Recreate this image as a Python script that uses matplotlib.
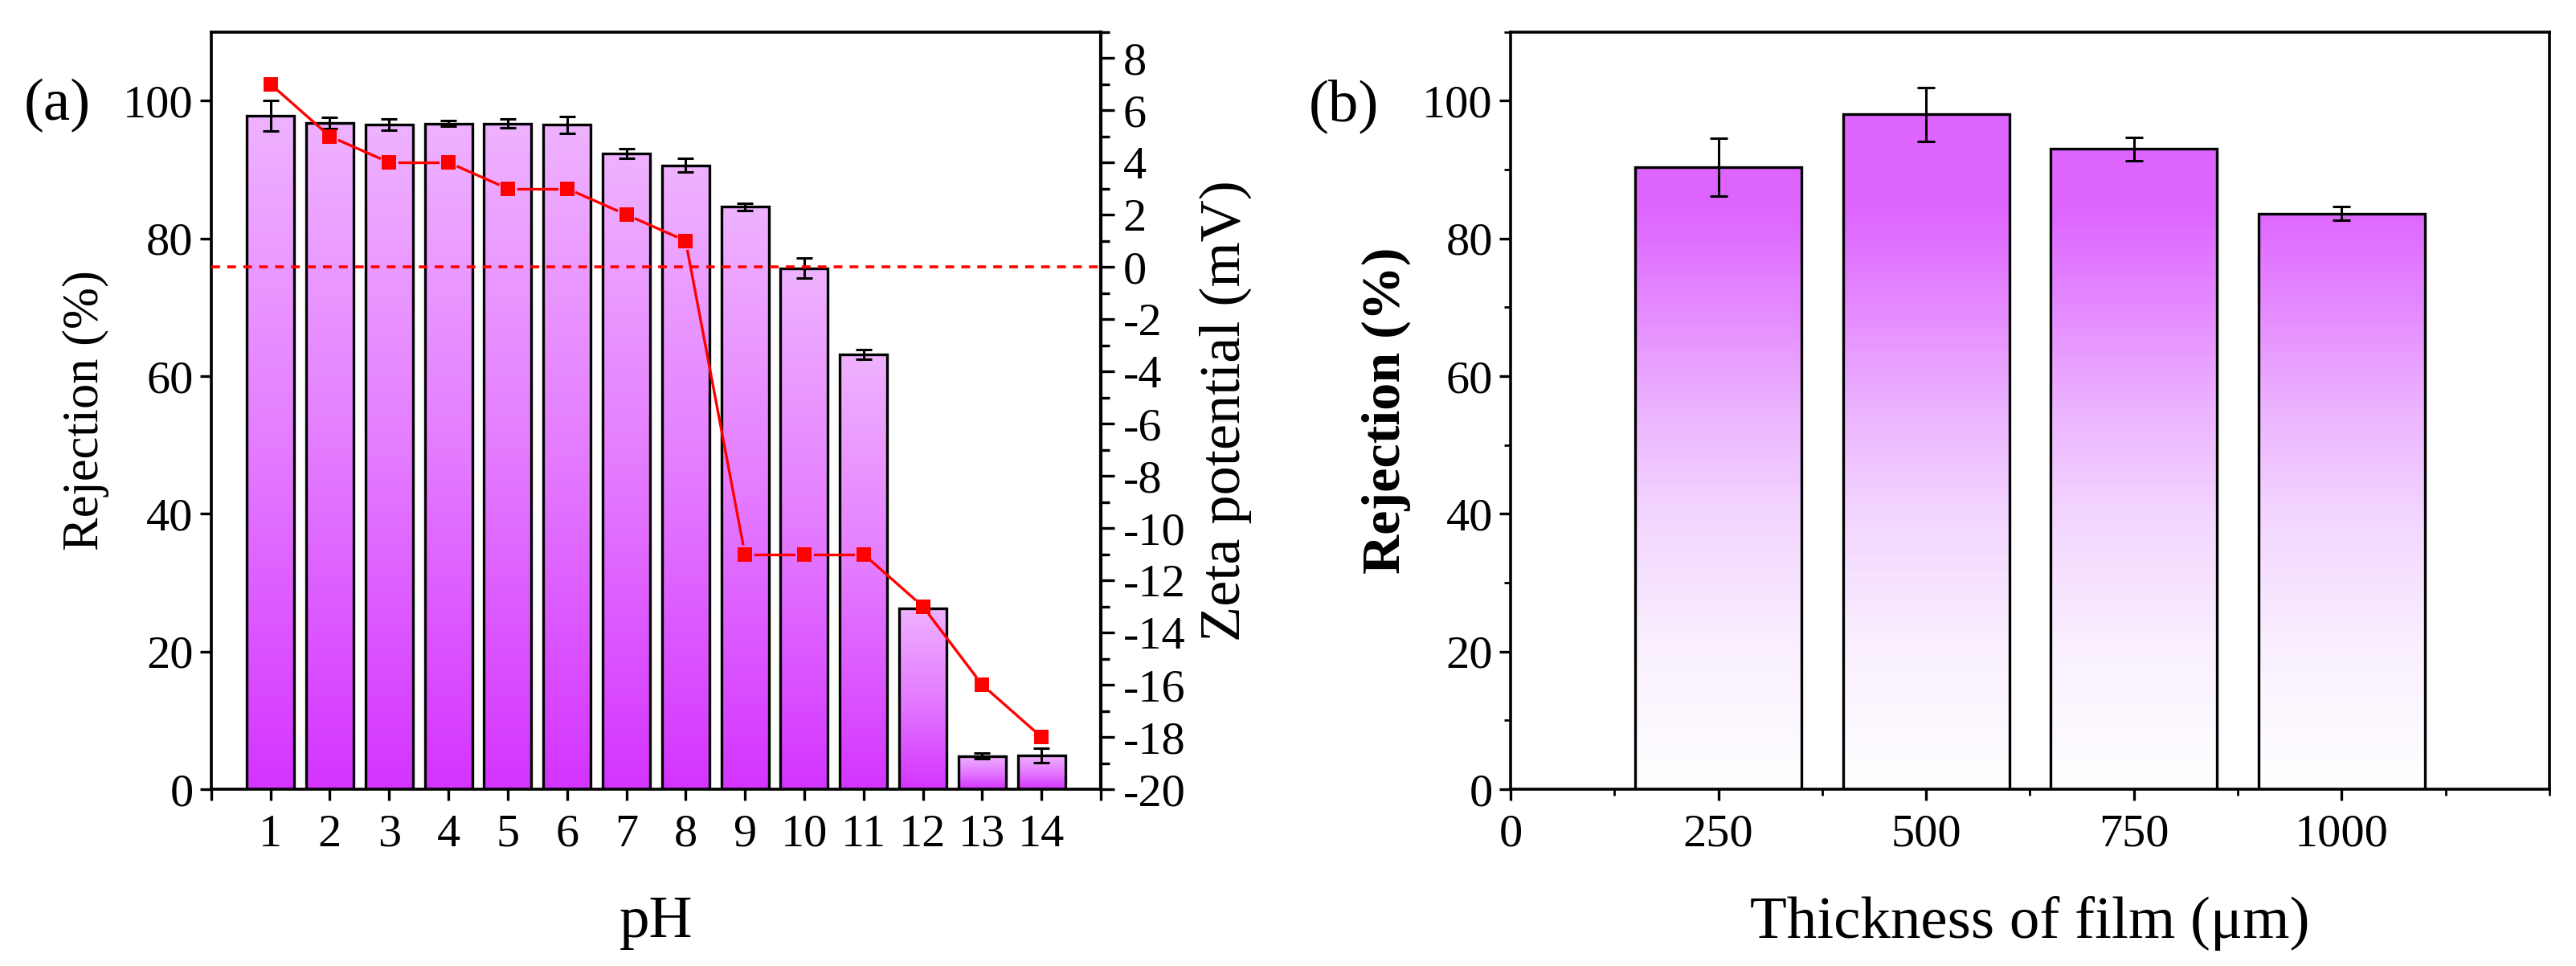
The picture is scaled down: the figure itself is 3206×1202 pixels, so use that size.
import numpy as np
import matplotlib
matplotlib.use("Agg")
import matplotlib.pyplot as plt
from matplotlib.colors import LinearSegmentedColormap
from matplotlib.ticker import MultipleLocator

plt.rcParams['font.family'] = ['Liberation Serif', 'DejaVu Serif']
plt.rcParams['axes.unicode_minus'] = False

# ---- data (a): rejection and zeta potential vs pH ----
ph = [1, 2, 3, 4, 5, 6, 7, 8, 9, 10, 11, 12, 13, 14]
rejection_ph = [97.8, 96.8, 96.5, 96.7, 96.7, 96.5, 92.3, 90.6, 84.6, 75.7, 63.2, 26.3, 4.8, 4.9]
rejection_ph_err = [2.2, 0.8, 0.8, 0.4, 0.6, 1.2, 0.7, 1.0, 0.5, 1.5, 0.7, 0.0, 0.4, 1.0]
zeta = [7, 5, 4, 4, 3, 3, 2, 1, -11, -11, -11, -13, -16, -18]

# ---- data (b): rejection vs film thickness ----
thickness = [250, 500, 750, 1000]
rejection_th = [90.3, 98.0, 93.0, 83.6]
rejection_th_err = [4.2, 3.9, 1.7, 1.0]

cmap_a = LinearSegmentedColormap.from_list('a', ['#d434ff', '#e47bff', '#efb2ff'])
cmap_b = LinearSegmentedColormap.from_list(
    'b', [(0.0, '#ffffff'), (0.24, '#faf0ff'), (0.47, '#f3d5ff'),
          (0.65, '#ecb3ff'), (0.82, '#e58bff'), (1.0, '#de64ff')])

DPI = 200
fig = plt.figure(figsize=(16.03, 6.01), dpi=DPI)
ax1 = fig.add_axes([0.082, 0.183, 0.3453, 0.784])
ax3 = fig.add_axes([0.5864, 0.183, 0.4033, 0.784])

grad = np.linspace(0, 1, 256).reshape(-1, 1)

# ---------- panel (a) ----------
w = 0.8
for x, h in zip(ph, rejection_ph):
    ax1.imshow(grad, cmap=cmap_a, origin='lower', aspect='auto',
               extent=[x - w / 2, x + w / 2, 0, h], zorder=1)
ax1.bar(ph, rejection_ph, width=w, facecolor='none', edgecolor='black',
        linewidth=1.2, zorder=2)
ax1.errorbar(ph, rejection_ph, yerr=rejection_ph_err, fmt='none', ecolor='black',
             elinewidth=1.1, capsize=3.5, capthick=1.1, zorder=3)
ax1.set_xlim(0, 15)
ax1.set_ylim(0, 110)
ax1.set_xticks(range(0, 16))
ax1.set_xticklabels([''] + [str(p) for p in ph] + [''])
ax1.set_yticks(range(0, 101, 20))
ax1.tick_params(axis='both', direction='out', length=5, width=1.2, labelsize=21, pad=6)
ax1.tick_params(axis='y', pad=3)
ax1.set_xlabel('pH', fontsize=27, labelpad=18)
ax1.set_ylabel('Rejection (%)', fontsize=22.5, labelpad=6)
for s in ax1.spines.values():
    s.set_linewidth(1.3)

ax2 = ax1.twinx()
ax2.set_ylim(-20, 9)
ax2.set_xlim(0, 15)
ax2.axhline(0, color='red', linestyle=(0, (3, 2.5)), linewidth=1.3, zorder=4)

# line segments stop short of the square markers
pts = ax2.transData.transform(np.column_stack([ph, zeta]))
gap = 13.0
inv = ax2.transData.inverted()
for p0, p1 in zip(pts[:-1], pts[1:]):
    d = p1 - p0
    L = np.hypot(*d)
    if L <= 2 * gap:
        continue
    u = d / L
    seg = inv.transform(np.array([p0 + u * gap, p1 - u * gap]))
    ax2.plot(seg[:, 0], seg[:, 1], color='red', linewidth=1.2, zorder=5)
ax2.plot(ph, zeta, linestyle='none', color='red', marker='s', markersize=6.2,
         markeredgewidth=0, zorder=6)

ax2.yaxis.set_major_locator(MultipleLocator(2))
ax2.yaxis.set_minor_locator(MultipleLocator(1))
ax2.tick_params(axis='y', which='major', direction='out', length=6, width=1.2,
                labelsize=21, pad=4)
ax2.tick_params(axis='y', which='minor', direction='out', length=4, width=1.2)
ax2.set_ylabel('Zeta potential (mV)', fontsize=26, labelpad=6)
ax2.spines['right'].set_linewidth(1.5)

fig.text(71 / 3206, 1 - 131 / 1202, '(a)', fontsize=27, ha='center', va='center')

# ---------- panel (b) ----------
wb = 200
for x, h in zip(thickness, rejection_th):
    img = np.linspace(0, h, 256).reshape(-1, 1) / 85.0
    ax3.imshow(np.clip(img, 0, 1), cmap=cmap_b, vmin=0, vmax=1, origin='lower',
               aspect='auto', extent=[x - wb / 2, x + wb / 2, 0, h], zorder=1)
ax3.bar(thickness, rejection_th, width=wb, facecolor='none', edgecolor='black',
        linewidth=1.2, zorder=2)
ax3.errorbar(thickness, rejection_th, yerr=rejection_th_err, fmt='none',
             ecolor='black', elinewidth=1.1, capsize=4, capthick=1.1, zorder=3)
ax3.set_xlim(0, 1250)
ax3.set_ylim(0, 110)
ax3.set_xticks([0] + thickness)
ax3.xaxis.set_minor_locator(MultipleLocator(125))
ax3.set_yticks(range(0, 101, 20))
ax3.yaxis.set_minor_locator(MultipleLocator(10))
ax3.tick_params(axis='both', which='major', direction='out', length=5, width=1.2,
                labelsize=21, pad=6)
ax3.tick_params(axis='y', which='major', pad=3)
ax3.tick_params(axis='both', which='minor', direction='out', length=3, width=1.0)
ax3.set_xlabel('Thickness of film (μm)', fontsize=27, labelpad=18)
ax3.set_ylabel('Rejection (%)', fontsize=24.5, fontweight='bold', labelpad=5)
for s in ax3.spines.values():
    s.set_linewidth(1.3)

fig.text(1672 / 3206, 1 - 132 / 1202, '(b)', fontsize=27, ha='center', va='center')

fig.savefig('out.png', dpi=DPI)
